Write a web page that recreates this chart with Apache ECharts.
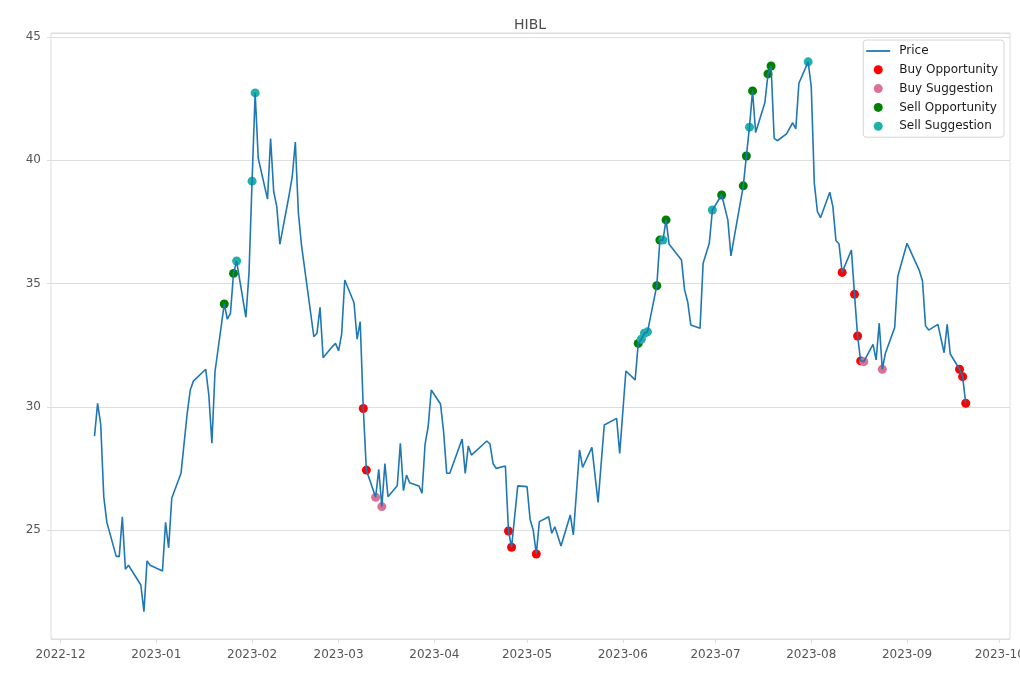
<!DOCTYPE html>
<html>
<head>
<meta charset="utf-8">
<title>HIBL</title>
<script src="https://cdn.jsdelivr.net/npm/echarts@6/dist/echarts.min.js"></script>
<style>
  html, body { margin: 0; padding: 0; background: #fff; }
  #chart { width: 1020px; height: 680px; }
</style>
</head>
<body>
<div id="chart"></div>
<script>
// price series
const priceDates = [
  '2022-12-12', '2022-12-13', '2022-12-14', '2022-12-15', '2022-12-16', '2022-12-19', '2022-12-20', '2022-12-21',
  '2022-12-22', '2022-12-23', '2022-12-27', '2022-12-28', '2022-12-29', '2022-12-30', '2023-01-03', '2023-01-04',
  '2023-01-05', '2023-01-06', '2023-01-09', '2023-01-11', '2023-01-12', '2023-01-13', '2023-01-17', '2023-01-18',
  '2023-01-19', '2023-01-20', '2023-01-23', '2023-01-24', '2023-01-25', '2023-01-26', '2023-01-27', '2023-01-30',
  '2023-01-31', '2023-02-01', '2023-02-02', '2023-02-03', '2023-02-06', '2023-02-07', '2023-02-08', '2023-02-09',
  '2023-02-10', '2023-02-13', '2023-02-14', '2023-02-15', '2023-02-16', '2023-02-17', '2023-02-21', '2023-02-22',
  '2023-02-23', '2023-02-24', '2023-02-27', '2023-02-28', '2023-03-01', '2023-03-02', '2023-03-03', '2023-03-06',
  '2023-03-07', '2023-03-08', '2023-03-09', '2023-03-10', '2023-03-13', '2023-03-14', '2023-03-15', '2023-03-16',
  '2023-03-17', '2023-03-20', '2023-03-21', '2023-03-22', '2023-03-23', '2023-03-24', '2023-03-27', '2023-03-28',
  '2023-03-29', '2023-03-30', '2023-03-31', '2023-04-03', '2023-04-04', '2023-04-05', '2023-04-06', '2023-04-10',
  '2023-04-11', '2023-04-12', '2023-04-13', '2023-04-18', '2023-04-19', '2023-04-20', '2023-04-21', '2023-04-24',
  '2023-04-25', '2023-04-26', '2023-04-28', '2023-05-01', '2023-05-02', '2023-05-03', '2023-05-04', '2023-05-05',
  '2023-05-08', '2023-05-09', '2023-05-10', '2023-05-12', '2023-05-15', '2023-05-16', '2023-05-18', '2023-05-19',
  '2023-05-22', '2023-05-24', '2023-05-26', '2023-05-30', '2023-05-31', '2023-06-02', '2023-06-05', '2023-06-06',
  '2023-06-07', '2023-06-08', '2023-06-09', '2023-06-12', '2023-06-13', '2023-06-14', '2023-06-15', '2023-06-16',
  '2023-06-20', '2023-06-21', '2023-06-22', '2023-06-23', '2023-06-26', '2023-06-27', '2023-06-29', '2023-06-30',
  '2023-07-03', '2023-07-05', '2023-07-06', '2023-07-10', '2023-07-11', '2023-07-12', '2023-07-13', '2023-07-14',
  '2023-07-17', '2023-07-18', '2023-07-19', '2023-07-20', '2023-07-21', '2023-07-24', '2023-07-26', '2023-07-27',
  '2023-07-28', '2023-07-31', '2023-08-01', '2023-08-02', '2023-08-03', '2023-08-04', '2023-08-07', '2023-08-08',
  '2023-08-09', '2023-08-10', '2023-08-11', '2023-08-14', '2023-08-15', '2023-08-16', '2023-08-17', '2023-08-18',
  '2023-08-21', '2023-08-22', '2023-08-23', '2023-08-24', '2023-08-25', '2023-08-28', '2023-08-29', '2023-09-01',
  '2023-09-05', '2023-09-06', '2023-09-07', '2023-09-08', '2023-09-11', '2023-09-13', '2023-09-14', '2023-09-15',
  '2023-09-18', '2023-09-19', '2023-09-20'
]
const priceValues = [
  28.81, 30.14, 29.30, 26.35, 25.31, 23.94, 23.92, 25.54,
  23.41, 23.57, 22.77, 21.69, 23.75, 23.57, 23.34, 25.31,
  24.28, 26.29, 27.30, 29.73, 30.68, 31.04, 31.52, 30.48,
  28.52, 31.42, 34.17, 33.55, 33.79, 35.41, 35.91, 33.63,
  35.40, 39.15, 42.73, 40.08, 38.42, 40.88, 38.73, 38.12,
  36.59, 38.59, 39.33, 40.74, 37.85, 36.56, 32.84, 32.98,
  34.03, 31.99, 32.44, 32.57, 32.27, 32.95, 35.14, 34.22,
  32.74, 33.45, 29.93, 27.43, 26.33, 27.46, 25.95, 27.70,
  26.35, 26.80, 28.52, 26.60, 27.23, 26.92, 26.79, 26.49,
  28.48, 29.19, 30.68, 30.11, 28.99, 27.30, 27.30, 28.69,
  27.30, 28.41, 28.04, 28.61, 28.49, 27.70, 27.50, 27.60,
  24.96, 24.30, 26.79, 26.76, 25.43, 25.00, 24.03, 25.34,
  25.54, 24.87, 25.13, 24.35, 25.61, 24.80, 28.25, 27.54,
  28.35, 26.12, 29.26, 29.53, 28.11, 31.45, 31.09, 32.57,
  32.74, 32.98, 33.04, 34.91, 36.76, 36.76, 37.58, 36.59,
  35.95, 34.74, 34.26, 33.32, 33.18, 35.82, 36.63, 37.98,
  38.59, 37.58, 36.12, 38.96, 40.17, 41.34, 42.81, 41.12,
  42.34, 43.50, 43.82, 40.89, 40.79, 41.07, 41.52, 41.27,
  43.12, 43.99, 42.98, 39.06, 37.91, 37.67, 38.70, 38.12,
  36.74, 36.60, 35.45, 36.36, 34.56, 32.87, 31.86, 31.83,
  32.53, 31.90, 33.39, 31.52, 32.17, 33.21, 35.28, 36.63,
  35.52, 35.11, 33.28, 33.11, 33.34, 32.19, 33.34, 32.14,
  31.52, 31.22, 30.14
]

// signal dates (the markers sit on the price line)
const buyOpportunityDates = [
  '2023-03-09', '2023-03-10', '2023-04-25', '2023-04-26', '2023-05-04',
  '2023-08-11', '2023-08-15', '2023-08-16', '2023-08-17', '2023-09-18', '2023-09-19', '2023-09-20'
]
const buySuggestionDates = ['2023-03-13', '2023-03-15', '2023-08-18', '2023-08-24']
const sellOpportunityDates = [
  '2023-01-23', '2023-01-26', '2023-06-06', '2023-06-12', '2023-06-13', '2023-06-15',
  '2023-07-03', '2023-07-10', '2023-07-11', '2023-07-13', '2023-07-18', '2023-07-19'
]
const sellSuggestionDates = [
  '2023-01-27', '2023-02-01', '2023-02-02', '2023-06-07', '2023-06-08', '2023-06-09',
  '2023-06-14', '2023-06-30', '2023-07-12', '2023-07-31'
]

const monthTicks = [
  '2022-12-01', '2023-01-01', '2023-02-01', '2023-03-01', '2023-04-01', '2023-05-01',
  '2023-06-01', '2023-07-01', '2023-08-01', '2023-09-01', '2023-10-01'
]

const ts = (d) => Date.parse(d) // ISO date-only -> UTC
const priceByDate = {}
priceDates.forEach((d, i) => { priceByDate[d] = priceValues[i] })
const points = (dates) => dates.map((d) => [ts(d), priceByDate[d]])

const font = 'DejaVu Sans'
const gridColor = '#dddddd'

const scatter = (name, color, dates) => ({
  name: name,
  type: 'scatter',
  z: 2,
  symbolSize: 9,
  color: color,
  itemStyle: { color: color, opacity: 1 },
  data: points(dates)
})

const chart = echarts.init(document.getElementById('chart'))
chart.setOption({
  animation: false,
  backgroundColor: '#ffffff',
  title: {
    text: 'HIBL',
    left: 525,
    top: 13,
    textAlign: 'center',
    textStyle: { fontFamily: font, fontSize: 14, fontWeight: 'normal', color: '#4d4d4d' }
  },
  legend: {
    orient: 'vertical',
    right: 16,
    top: 40,
    padding: [5, 6, 5, 3],
    itemWidth: 24,
    itemHeight: 9,
    itemGap: 6.8,
    backgroundColor: '#ffffff',
    borderColor: '#d6d6d6',
    borderWidth: 1,
    borderRadius: 3,
    textStyle: { fontFamily: font, fontSize: 12, color: '#1a1a1a', padding: [0, 0, 0, 4] },
    data: [
      { name: 'Price', icon: 'path://M0,0 L24,0 L24,1.8 L0,1.8 Z' },
      { name: 'Buy Opportunity', icon: 'circle' },
      { name: 'Buy Suggestion', icon: 'circle' },
      { name: 'Sell Opportunity', icon: 'circle' },
      { name: 'Sell Suggestion', icon: 'circle' }
    ]
  },
  grid: {
    left: 51,
    right: 10,
    top: 33,
    bottom: 41,
    outerBoundsMode: 'none',
    containLabel: false,
    show: true,
    borderColor: gridColor,
    borderWidth: 1
  },
  xAxis: {
    // timestamps on a plain value axis so the month ticks can be placed exactly
    type: 'value',
    min: Date.UTC(2022, 10, 27, 22),
    max: Date.UTC(2023, 9, 4, 8),
    axisLine: { show: false },
    axisTick: {
      show: true,
      length: 4,
      lineStyle: { color: gridColor },
      customValues: monthTicks.map(ts)
    },
    axisLabel: {
      margin: 10,
      fontFamily: font,
      fontSize: 12,
      color: '#555555',
      hideOverlap: false,
      customValues: monthTicks.map(ts),
      formatter: (v) => {
        const d = new Date(v)
        return d.getUTCFullYear() + '-' + String(d.getUTCMonth() + 1).padStart(2, '0')
      }
    },
    splitLine: { show: false }
  },
  yAxis: {
    type: 'value',
    min: 20.58,
    max: 45.16,
    splitNumber: 5,
    axisLine: { show: false },
    axisTick: { show: true, length: 4, lineStyle: { color: gridColor } },
    axisLabel: {
      margin: 10,
      fontFamily: font,
      fontSize: 12,
      color: '#555555',
      showMinLabel: false,
      showMaxLabel: false
    },
    splitLine: { show: true, lineStyle: { color: gridColor, width: 1 } }
  },
  series: [
    {
      name: 'Price',
      type: 'line',
      z: 3,
      symbol: 'none',
      showSymbol: false,
      color: '#1f77b4',
      lineStyle: { width: 1.6, color: '#1f77b4' },
      data: priceDates.map((d, i) => [ts(d), priceValues[i]])
    },
    scatter('Buy Opportunity', '#ff0000', buyOpportunityDates),
    scatter('Buy Suggestion', '#db7093', buySuggestionDates),
    scatter('Sell Opportunity', '#008000', sellOpportunityDates),
    scatter('Sell Suggestion', '#20b2aa', sellSuggestionDates)
  ]
})
</script>
</body>
</html>
